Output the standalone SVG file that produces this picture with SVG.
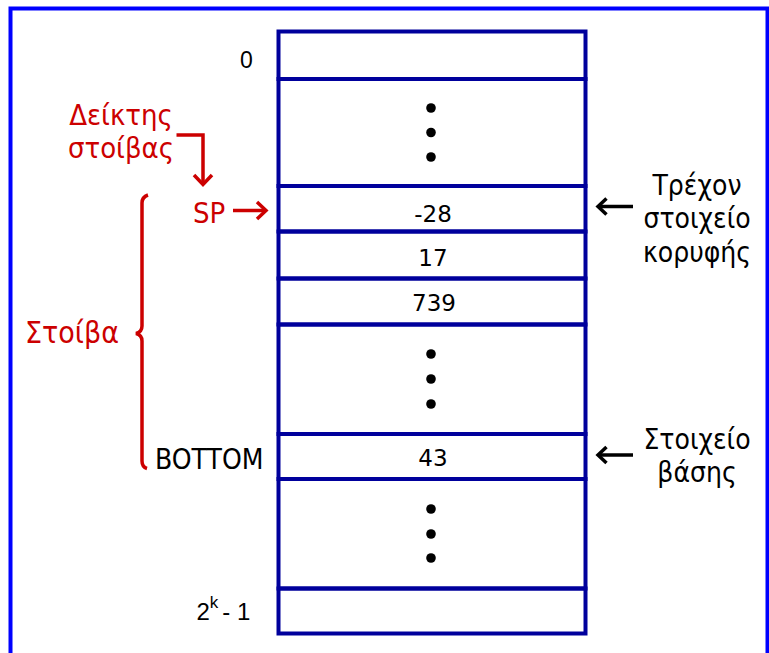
<svg xmlns="http://www.w3.org/2000/svg" width="769" height="653" viewBox="0 0 769 653">
<style>
.frame{fill:none;stroke:#0000FF;stroke-width:4}
.cell{fill:none;stroke:#00009C;stroke-width:4}
.dot{fill:#000}
.lbl{font-family:"DejaVu Sans Condensed","DejaVu Sans",sans-serif;font-stretch:condensed;font-size:29px}
.red{fill:#CC0000}
.blk{fill:#000}
.num{font-family:"DejaVu Sans",sans-serif;font-size:23px;fill:#000;text-anchor:middle}
.addr{font-family:"Liberation Sans",Arial,sans-serif;font-size:23px;fill:#000}
.rline{fill:none;stroke:#CC0000;stroke-width:3.5;stroke-linejoin:miter}
.bline{fill:none;stroke:#000;stroke-width:3.5}
</style>
<rect x="0" y="0" width="769" height="653" fill="#fff"/>
<rect class="frame" x="10.5" y="8.5" width="757" height="670"/>

<g id="memory">
  <g id="cell-0"><rect class="cell" x="278.5" y="31.5" width="307" height="47.5"/></g>
  <g id="cell-gap1"><rect class="cell" x="278.5" y="79" width="307" height="107"/>
    <circle class="dot" cx="431" cy="108" r="4.8"/><circle class="dot" cx="431" cy="132.5" r="4.8"/><circle class="dot" cx="431" cy="157" r="4.8"/></g>
  <g id="cell-top"><rect class="cell" x="278.5" y="186" width="307" height="45.5"/><text class="num" x="433" y="221.5">-28</text></g>
  <g id="cell-17"><rect class="cell" x="278.5" y="231.5" width="307" height="47"/><text class="num" x="433" y="266">17</text></g>
  <g id="cell-739"><rect class="cell" x="278.5" y="278.5" width="307" height="46"/><text class="num" x="434" y="311">739</text></g>
  <g id="cell-gap2"><rect class="cell" x="278.5" y="324.5" width="307" height="109.5"/>
    <circle class="dot" cx="431" cy="354" r="4.8"/><circle class="dot" cx="431" cy="379" r="4.8"/><circle class="dot" cx="431" cy="404" r="4.8"/></g>
  <g id="cell-bottom"><rect class="cell" x="278.5" y="434" width="307" height="45"/><text class="num" x="433" y="466">43</text></g>
  <g id="cell-gap3"><rect class="cell" x="278.5" y="479" width="307" height="109.5"/>
    <circle class="dot" cx="431" cy="509" r="4.8"/><circle class="dot" cx="431" cy="534" r="4.8"/><circle class="dot" cx="431" cy="558" r="4.8"/></g>
  <g id="cell-last"><rect class="cell" x="278.5" y="588.5" width="307" height="45"/></g>
</g>

<g id="addr-0"><text class="addr" x="240" y="68">0</text></g>
<g id="addr-last"><text class="addr" x="196.5" y="620" style="font-size:24px">2<tspan style="font-size:17px" dy="-12">k</tspan><tspan dy="12" dx="4">-  1</tspan></text></g>

<g id="stack-pointer-label"><text class="lbl red" text-anchor="middle"><tspan x="121" y="125">Δείκτης</tspan><tspan x="121" y="158">στοίβας</tspan></text></g>
<g id="sp"><text class="lbl red" x="193" y="222.5">SP</text></g>
<g id="stack-label"><text class="lbl red" text-anchor="middle" x="72" y="343" style="font-size:30px">Στοίβα</text></g>
<g id="bottom-label"><text class="lbl blk" x="155" y="468.5" style="font-size:28px">BOTTOM</text></g>
<g id="top-elem-label"><text class="lbl blk" text-anchor="middle" style="font-size:28px"><tspan x="697" y="195">Τρέχον</tspan><tspan x="697" y="228">στοιχείο</tspan><tspan x="697" y="261.5">κορυφής</tspan></text></g>
<g id="base-elem-label"><text class="lbl blk" text-anchor="middle" style="font-size:28px"><tspan x="697" y="449">Στοιχείο</tspan><tspan x="697" y="482">βάσης</tspan></text></g>

<g id="connectors">
  <path class="rline" d="M176.5,135 H203 V183"/>
  <path class="rline" d="M194,175 L203,184.5 L212,175"/>
  <path class="rline" d="M233,210.5 H265"/>
  <path class="rline" d="M257,202 L266,210.5 L257,219"/>
  <path class="rline" d="M148,195 Q142,197 142,203 V326 Q142,332 136,333.5 Q142,335 142,341 V461 Q142,467 147,468.5"/>
  <path class="bline" d="M633,206.5 H599"/>
  <path class="bline" d="M606.5,198.5 L598,206.5 L606.5,214.5"/>
  <path class="bline" d="M633,455 H599"/>
  <path class="bline" d="M606.5,447 L598,455 L606.5,463"/>
</g>
</svg>
